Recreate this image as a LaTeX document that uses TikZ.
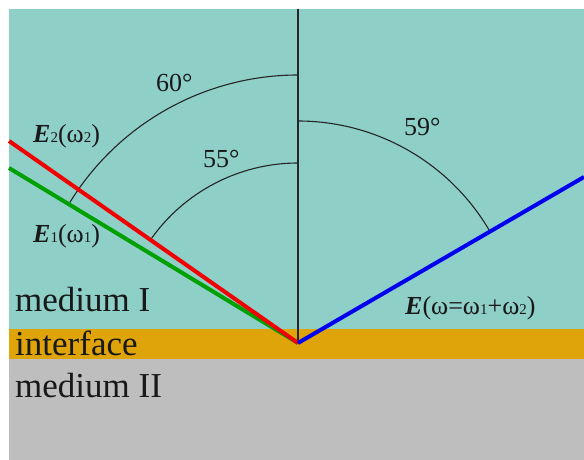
\documentclass[tikz,border=0pt]{standalone}
\usepackage{fontspec}
\setmainfont{Liberation Serif}
\usetikzlibrary{calc}
\definecolor{mediumone}{HTML}{8ECFC8}
\definecolor{interf}{HTML}{DEA409}
\definecolor{mediumtwo}{HTML}{BEBEBE}
\definecolor{beamred}{HTML}{F00000}
\definecolor{beamgreen}{HTML}{00A000}
\definecolor{beamblue}{HTML}{0000F0}
\newcommand{\sbs}[1]{{\fontsize{15}{15}\selectfont #1}}
\tikzset{
  beam/.style={line width=4pt},
  anglearc/.style={line width=1.1pt, black!85},
  lbl/.style={anchor=base west, inner sep=0pt, text=black!90, font=\fontsize{26}{26}\selectfont},
  big/.style={anchor=base west, inner sep=0pt, text=black!90, font=\fontsize{35}{35}\selectfont},
}
\begin{document}
\begin{tikzpicture}[x=1pt,y=1pt]
\useasboundingbox (0,0) rectangle (584,460);
% layers
\fill[mediumone] (9,131) rectangle (584,451);
\fill[interf] (9,101) rectangle (584,131);
\fill[mediumtwo] (9,0) rectangle (584,101);
% coordinates
\coordinate (A) at (298,117);
\coordinate (T) at (298,451);
\coordinate (R) at (9,319);
\coordinate (G) at (9,292);
\coordinate (B) at (584,283);
% normal
\draw[line width=1.4pt, black!85] (T) -- (A);
% arcs
\draw[anglearc] ($(A)+(90:268)$) arc[start angle=90, end angle=148.8, radius=268];
\draw[anglearc] ($(A)+(90:180)$) arc[start angle=90, end angle=145.04, radius=180];
\draw[anglearc] ($(A)+(90:222)$) arc[start angle=90, end angle=30.13, radius=222];
% beams
\draw[beam, beamgreen] (G) -- (A);
\draw[beam, beamred] (R) -- (A);
\draw[beam, beamblue] (A) -- (B);
% labels
\node[lbl] (l60) at (156,368) {60°};
\node[lbl] (l55) at (203,292) {55°};
\node[lbl] (l59) at (404,324) {59°};
\node[lbl] (e2) at (33,317) {\textbf{\textit{E}}\sbs{2}(ω\sbs{2})};
\node[lbl] (e1) at (33,217) {\textbf{\textit{E}}\sbs{1}(ω\sbs{1})};
\node[lbl] (e) at (405,145) {\textbf{\textit{E}}(ω=ω\sbs{1}+ω\sbs{2})};
\node[big] (m1) at (15,148) {medium I};
\node[big] (itf) at (15,104) {interface};
\node[big] (m2) at (15,62) {medium II};
\end{tikzpicture}
\end{document}
